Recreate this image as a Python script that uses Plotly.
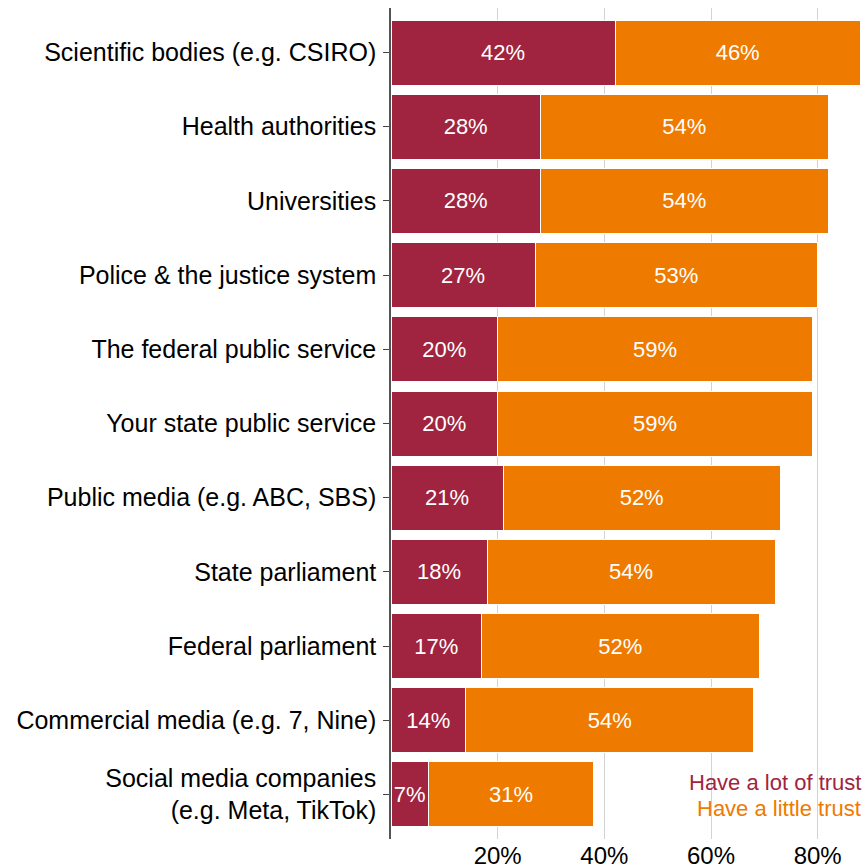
import plotly.graph_objects as go

categories = [
    "Scientific bodies (e.g. CSIRO)",
    "Health authorities",
    "Universities",
    "Police & the justice system",
    "The federal public service",
    "Your state public service",
    "Public media (e.g. ABC, SBS)",
    "State parliament",
    "Federal parliament",
    "Commercial media (e.g. 7, Nine)",
    "Social media companies<br>(e.g. Meta, TikTok)",
]
lot_of_trust = [42, 28, 28, 27, 20, 20, 21, 18, 17, 14, 7]
little_trust = [46, 54, 54, 53, 59, 59, 52, 54, 52, 54, 31]
x_ticks = [20, 40, 60, 80]

RED = "#A02440"
ORANGE = "#EE7A00"
FONT = "Liberation Sans, Arial, Helvetica, sans-serif"

fig = go.Figure()
for name, vals, color in [
    ("Have a lot of trust", lot_of_trust, RED),
    ("Have a little trust", little_trust, ORANGE),
]:
    fig.add_trace(go.Bar(
        y=categories,
        x=vals,
        name=name,
        orientation="h",
        marker=dict(color=color, line=dict(color="white", width=1)),
        text=[f"{v}%" for v in vals],
        textposition="inside",
        insidetextanchor="middle",
        textangle=0,
        constraintext="none",
        textfont=dict(color="white", size=22, family=FONT),
        showlegend=False,
    ))

# Legend drawn as coloured text in the lower-right corner
fig.add_annotation(x=1, y=0.0, xref="paper", yref="paper", xanchor="right",
                   yanchor="bottom", yshift=42, showarrow=False,
                   text="Have a lot of trust", font=dict(color=RED, size=22, family=FONT))
fig.add_annotation(x=1, y=0.0, xref="paper", yref="paper", xanchor="right",
                   yanchor="bottom", yshift=16, showarrow=False,
                   text="Have a little trust", font=dict(color=ORANGE, size=22, family=FONT))

fig.update_layout(
    barmode="stack",
    bargap=0.124,
    width=863,
    height=867,
    margin=dict(l=391, r=0, t=8, b=28),
    plot_bgcolor="white",
    paper_bgcolor="white",
    font=dict(family=FONT, color="black"),
    xaxis=dict(
        range=[0, 88.5],
        tickvals=x_ticks,
        ticktext=[f"{t}%" for t in x_ticks],
        showgrid=True,
        gridcolor="#d3d3d3",
        gridwidth=1,
        zeroline=False,
        showline=False,
        ticks="",
        tickfont=dict(size=24, family=FONT),
        automargin=False,
    ),
    yaxis=dict(
        autorange=False,
        range=[10.6, -0.6],
        showline=True,
        linecolor="#555",
        linewidth=1.5,
        ticks="outside",
        ticklen=6,
        tickcolor="#444",
        tickfont=dict(size=25, family=FONT),
        ticklabelstandoff=2,
        automargin=False,
        showgrid=False,
    ),
)

fig.write_html("out.html")
